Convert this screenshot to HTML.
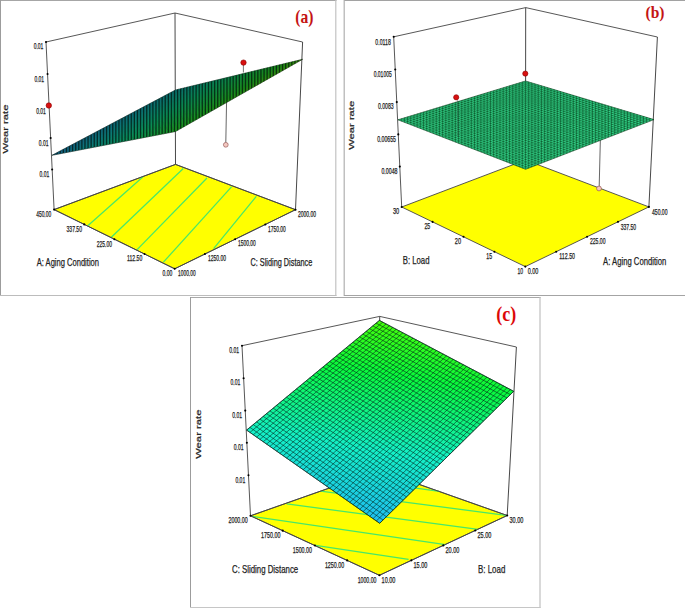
<!DOCTYPE html>
<html><head><meta charset="utf-8"><style>
html,body{margin:0;padding:0;background:#fff;}
svg{display:block;}
</style></head><body>
<svg width="685" height="608" viewBox="0 0 685 608">
<rect width="685" height="608" fill="#fff"/>
<defs></defs>
<line x1="0" y1="0.5" x2="336.5" y2="0.5" stroke="#a6a6a6" stroke-width="1"/>
<line x1="0.5" y1="0" x2="0.5" y2="296" stroke="#9c9c9c" stroke-width="1"/>
<line x1="335.8" y1="0" x2="335.8" y2="296" stroke="#c2c2c2" stroke-width="1.2"/>
<line x1="0" y1="295.5" x2="336.5" y2="295.5" stroke="#bcbcbc" stroke-width="1"/>
<line x1="344" y1="0.5" x2="685" y2="0.5" stroke="#a2a2a2" stroke-width="1"/>
<line x1="344.2" y1="0" x2="344.2" y2="296" stroke="#b0b0b0" stroke-width="1.2"/>
<line x1="344" y1="295.5" x2="685" y2="295.5" stroke="#a4a4a4" stroke-width="1"/>
<line x1="190" y1="297.5" x2="540.6" y2="297.5" stroke="#a8a8a8" stroke-width="1"/>
<line x1="190.5" y1="297" x2="190.5" y2="608" stroke="#9c9c9c" stroke-width="1"/>
<line x1="540" y1="297" x2="540" y2="608" stroke="#c0c0c0" stroke-width="1.2"/>
<line x1="190" y1="607.5" x2="540.6" y2="607.5" stroke="#c6c6c6" stroke-width="1"/>
<line x1="46" y1="42" x2="175" y2="13" stroke="#444" stroke-width="0.9" />
<line x1="175" y1="13" x2="302.6" y2="42" stroke="#444" stroke-width="0.9" />
<line x1="175" y1="13" x2="175.5" y2="164.4" stroke="#333" stroke-width="0.9" />
<line x1="302.6" y1="42" x2="295.5" y2="209.7" stroke="#333" stroke-width="0.9" />
<polygon points="54.1,209.6 175.5,164.4 295.5,209.7 174.7,268.8" fill="#ffff00" stroke="#444" stroke-width="0.9" stroke-linejoin="round"/>
<line x1="87.8" y1="225.8" x2="143" y2="176.8" stroke="#48e868" stroke-width="1.25" />
<line x1="111.3" y1="237.3" x2="183.3" y2="168.5" stroke="#48e868" stroke-width="1.25" />
<line x1="136.9" y1="249.9" x2="207" y2="178" stroke="#48e868" stroke-width="1.25" />
<line x1="163.4" y1="262.2" x2="231.7" y2="186.6" stroke="#48e868" stroke-width="1.25" />
<line x1="213.6" y1="248.7" x2="256.3" y2="196.4" stroke="#48e868" stroke-width="1.25" />
<polygon points="54.1,209.6 175.5,164.4 295.5,209.7 174.7,268.8" fill="none" stroke="#444" stroke-width="0.9" />
<line x1="46" y1="42" x2="54.1" y2="209.6" stroke="#444" stroke-width="0.9" />
<circle cx="46" cy="42" r="1.05" fill="#000"/>
<circle cx="47.55" cy="74" r="1.05" fill="#000"/>
<circle cx="49.12" cy="106.5" r="1.05" fill="#000"/>
<circle cx="50.64" cy="138" r="1.05" fill="#000"/>
<circle cx="52.16" cy="169.5" r="1.05" fill="#000"/>
<text x="43.4" y="49.2" font-family="Liberation Sans" font-size="8.2" font-weight="normal" fill="#222" text-anchor="end" textLength="9.7" lengthAdjust="spacingAndGlyphs" stroke="#222" stroke-width="0.25">0.01</text>
<text x="44.1" y="81.5" font-family="Liberation Sans" font-size="8.2" font-weight="normal" fill="#222" text-anchor="end" textLength="9.7" lengthAdjust="spacingAndGlyphs" stroke="#222" stroke-width="0.25">0.01</text>
<text x="45.9" y="114" font-family="Liberation Sans" font-size="8.2" font-weight="normal" fill="#222" text-anchor="end" textLength="9.7" lengthAdjust="spacingAndGlyphs" stroke="#222" stroke-width="0.25">0.01</text>
<text x="48.5" y="145.8" font-family="Liberation Sans" font-size="8.2" font-weight="normal" fill="#222" text-anchor="end" textLength="9.7" lengthAdjust="spacingAndGlyphs" stroke="#222" stroke-width="0.25">0.01</text>
<text x="49.2" y="177.3" font-family="Liberation Sans" font-size="8.2" font-weight="normal" fill="#222" text-anchor="end" textLength="9.7" lengthAdjust="spacingAndGlyphs" stroke="#222" stroke-width="0.25">0.01</text>
<text x="51.2" y="216.7" font-family="Liberation Sans" font-size="8.2" font-weight="normal" fill="#222" text-anchor="end" textLength="15" lengthAdjust="spacingAndGlyphs" stroke="#222" stroke-width="0.25">450.00</text>
<circle cx="84.25" cy="224.4" r="1.05" fill="#000"/>
<circle cx="114.4" cy="239.2" r="1.05" fill="#000"/>
<circle cx="144.55" cy="254" r="1.05" fill="#000"/>
<circle cx="204.9" cy="254.03" r="1.05" fill="#000"/>
<circle cx="235.1" cy="239.25" r="1.05" fill="#000"/>
<circle cx="265.3" cy="224.47" r="1.05" fill="#000"/>
<circle cx="54.1" cy="209.6" r="1.05" fill="#000"/>
<circle cx="174.7" cy="268.8" r="1.05" fill="#000"/>
<circle cx="295.5" cy="209.7" r="1.05" fill="#000"/>
<text x="82" y="232.3" font-family="Liberation Sans" font-size="8.2" font-weight="normal" fill="#222" text-anchor="end" textLength="15.5" lengthAdjust="spacingAndGlyphs" stroke="#222" stroke-width="0.25">337.50</text>
<text x="112" y="246.6" font-family="Liberation Sans" font-size="8.2" font-weight="normal" fill="#222" text-anchor="end" textLength="15.2" lengthAdjust="spacingAndGlyphs" stroke="#222" stroke-width="0.25">225.00</text>
<text x="142.3" y="261.2" font-family="Liberation Sans" font-size="8.2" font-weight="normal" fill="#222" text-anchor="end" textLength="15.3" lengthAdjust="spacingAndGlyphs" stroke="#222" stroke-width="0.25">112.50</text>
<text x="172.3" y="275.8" font-family="Liberation Sans" font-size="8.2" font-weight="normal" fill="#222" text-anchor="end" textLength="9.8" lengthAdjust="spacingAndGlyphs" stroke="#222" stroke-width="0.25">0.00</text>
<text x="178.1" y="275.8" font-family="Liberation Sans" font-size="8.2" font-weight="normal" fill="#222" text-anchor="start" textLength="17.5" lengthAdjust="spacingAndGlyphs" stroke="#222" stroke-width="0.25">1000.00</text>
<text x="208" y="261" font-family="Liberation Sans" font-size="8.2" font-weight="normal" fill="#222" text-anchor="start" textLength="18" lengthAdjust="spacingAndGlyphs" stroke="#222" stroke-width="0.25">1250.00</text>
<text x="238" y="246.3" font-family="Liberation Sans" font-size="8.2" font-weight="normal" fill="#222" text-anchor="start" textLength="17.8" lengthAdjust="spacingAndGlyphs" stroke="#222" stroke-width="0.25">1500.00</text>
<text x="268" y="232.2" font-family="Liberation Sans" font-size="8.2" font-weight="normal" fill="#222" text-anchor="start" textLength="17.7" lengthAdjust="spacingAndGlyphs" stroke="#222" stroke-width="0.25">1750.00</text>
<text x="298" y="216.7" font-family="Liberation Sans" font-size="8.2" font-weight="normal" fill="#222" text-anchor="start" textLength="18" lengthAdjust="spacingAndGlyphs" stroke="#222" stroke-width="0.25">2000.00</text>
<text x="36.8" y="266.2" font-family="Liberation Sans" font-size="10.5" font-weight="normal" fill="#222" text-anchor="start" textLength="62.2" lengthAdjust="spacingAndGlyphs" stroke="#222" stroke-width="0.25">A: Aging Condition</text>
<text x="250.5" y="266.4" font-family="Liberation Sans" font-size="10.5" font-weight="normal" fill="#222" text-anchor="start" textLength="61.8" lengthAdjust="spacingAndGlyphs" stroke="#222" stroke-width="0.25">C: Sliding Distance</text>
<text x="0" y="0" font-family="Liberation Sans" font-size="11" font-weight="normal" fill="#222" text-anchor="start" textLength="49" lengthAdjust="spacingAndGlyphs" stroke="#222" stroke-width="0.28" transform="translate(7.9 153.6) rotate(-90) scale(1 0.68)">Wear rate</text>
<line x1="226.6" y1="100" x2="225.8" y2="142.5" stroke="#555" stroke-width="0.9" />
<linearGradient id="ga" gradientUnits="userSpaceOnUse" x1="145.28" y1="60.1" x2="195.39" y2="138.88">
<stop offset="0.32" stop-color="#2aa0f0"/>
<stop offset="0.45" stop-color="#18d0d8"/>
<stop offset="0.6" stop-color="#14f0a0"/>
<stop offset="0.82" stop-color="#30f030"/>
<stop offset="0.9" stop-color="#70f818"/>
</linearGradient>
<polygon points="52,155.3 175.5,90 302.6,59.3 175.5,131.5" fill="url(#ga)" stroke="none" stroke-width="0" />
<path d="M52,155.3L175.5,131.5M52,155.3L175.5,90M55.09,153.67L178.68,129.69M55.09,154.71L178.68,89.23M58.17,152.04L181.85,127.89M58.17,154.11L181.85,88.47M61.26,150.4L185.03,126.08M61.26,153.52L185.03,87.7M64.35,148.77L188.21,124.28M64.35,152.92L188.21,86.93M67.44,147.14L191.39,122.47M67.44,152.33L191.39,86.16M70.53,145.5L194.56,120.67M70.53,151.73L194.56,85.39M73.61,143.87L197.74,118.86M73.61,151.14L197.74,84.63M76.7,142.24L200.92,117.06M76.7,150.54L200.92,83.86M79.79,140.61L204.1,115.25M79.79,149.95L204.1,83.09M82.88,138.98L207.28,113.45M82.88,149.35L207.28,82.33M85.96,137.34L210.45,111.64M85.96,148.75L210.45,81.56M89.05,135.71L213.63,109.84M89.05,148.16L213.63,80.79M92.14,134.08L216.81,108.03M92.14,147.56L216.81,80.02M95.22,132.44L219.99,106.23M95.22,146.97L219.99,79.25M98.31,130.81L223.16,104.42M98.31,146.38L223.16,78.49M101.4,129.18L226.34,102.62M101.4,145.78L226.34,77.72M104.49,127.55L229.52,100.81M104.49,145.19L229.52,76.95M107.58,125.92L232.7,99.01M107.58,144.59L232.7,76.19M110.66,124.28L235.87,97.2M110.66,144L235.87,75.42M113.75,122.65L239.05,95.4M113.75,143.4L239.05,74.65M116.84,121.02L242.23,93.59M116.84,142.81L242.23,73.88M119.93,119.39L245.41,91.79M119.93,142.21L245.41,73.11M123.01,117.75L248.58,89.98M123.01,141.62L248.58,72.35M126.1,116.12L251.76,88.18M126.1,141.02L251.76,71.58M129.19,114.49L254.94,86.38M129.19,140.43L254.94,70.81M132.28,112.86L258.12,84.57M132.28,139.83L258.12,70.05M135.36,111.22L261.29,82.76M135.36,139.24L261.29,69.28M138.45,109.59L264.47,80.96M138.45,138.64L264.47,68.51M141.54,107.96L267.65,79.16M141.54,138.05L267.65,67.74M144.62,106.33L270.83,77.35M144.62,137.45L270.83,66.97M147.71,104.69L274,75.54M147.71,136.85L274,66.21M150.8,103.06L277.18,73.74M150.8,136.26L277.18,65.44M153.89,101.43L280.36,71.94M153.89,135.66L280.36,64.67M156.97,99.8L283.54,70.13M156.97,135.07L283.54,63.91M160.06,98.16L286.71,68.32M160.06,134.47L286.71,63.14M163.15,96.53L289.89,66.52M163.15,133.88L289.89,62.37M166.24,94.9L293.07,64.71M166.24,133.28L293.07,61.6M169.32,93.27L296.25,62.91M169.32,132.69L296.25,60.83M172.41,91.63L299.42,61.11M172.41,132.09L299.42,60.07M175.5,90L302.6,59.3M175.5,131.5L302.6,59.3M52,155.3L175.5,90L302.6,59.3L175.5,131.5Z" stroke="#001008" stroke-opacity="0.6" stroke-width="0.5" fill="none"/>
<clipPath id="ca"><polygon points="52,155.3 175.5,90 302.6,59.3 175.5,131.5"/></clipPath>
<path clip-path="url(#ca)" d="M51 59.3V155.3M54.09 59.3V155.3M57.17 59.3V155.3M60.26 59.3V155.3M63.35 59.3V155.3M66.44 59.3V155.3M69.53 59.3V155.3M72.61 59.3V155.3M75.7 59.3V155.3M78.79 59.3V155.3M81.88 59.3V155.3M84.96 59.3V155.3M88.05 59.3V155.3M91.14 59.3V155.3M94.23 59.3V155.3M97.31 59.3V155.3M100.4 59.3V155.3M103.49 59.3V155.3M106.58 59.3V155.3M109.66 59.3V155.3M112.75 59.3V155.3M115.84 59.3V155.3M118.93 59.3V155.3M122.01 59.3V155.3M125.1 59.3V155.3M128.19 59.3V155.3M131.28 59.3V155.3M134.36 59.3V155.3M137.45 59.3V155.3M140.54 59.3V155.3M143.63 59.3V155.3M146.71 59.3V155.3M149.8 59.3V155.3M152.89 59.3V155.3M155.98 59.3V155.3M159.06 59.3V155.3M162.15 59.3V155.3M165.24 59.3V155.3M168.33 59.3V155.3M171.41 59.3V155.3M174.5 59.3V155.3M177.59 59.3V155.3M180.68 59.3V155.3M183.76 59.3V155.3M186.85 59.3V155.3M189.94 59.3V155.3M193.03 59.3V155.3M196.11 59.3V155.3M199.2 59.3V155.3M202.29 59.3V155.3M205.38 59.3V155.3M208.46 59.3V155.3M211.55 59.3V155.3M214.64 59.3V155.3M217.73 59.3V155.3M220.81 59.3V155.3M223.9 59.3V155.3M226.99 59.3V155.3M230.08 59.3V155.3M233.16 59.3V155.3M236.25 59.3V155.3M239.34 59.3V155.3M242.43 59.3V155.3M245.51 59.3V155.3M248.6 59.3V155.3M251.69 59.3V155.3M254.78 59.3V155.3M257.86 59.3V155.3M260.95 59.3V155.3M264.04 59.3V155.3M267.13 59.3V155.3M270.21 59.3V155.3M273.3 59.3V155.3M276.39 59.3V155.3M279.48 59.3V155.3M282.56 59.3V155.3M285.65 59.3V155.3M288.74 59.3V155.3M291.83 59.3V155.3M294.91 59.3V155.3M298 59.3V155.3M301.09 59.3V155.3" stroke="#001008" stroke-opacity="0.7" stroke-width="1.3" fill="none"/>
<line x1="243.4" y1="64" x2="243.4" y2="72.5" stroke="#555" stroke-width="0.8" />
<circle cx="243.5" cy="62.6" r="2.7" fill="#d81010" stroke="#800" stroke-width="0.6"/>
<circle cx="48.8" cy="105.5" r="2.7" fill="#d81010" stroke="#800" stroke-width="0.6"/>
<circle cx="225.8" cy="144.8" r="2.4" fill="#f4c8c0" stroke="#844" stroke-width="0.6"/>
<text x="304.3" y="23.4" font-family="Liberation Serif" font-size="18.3" font-weight="bold" fill="#c41414" text-anchor="middle" textLength="18.2" lengthAdjust="spacingAndGlyphs">(a)</text>
<line x1="393.7" y1="36.8" x2="525.7" y2="7.6" stroke="#444" stroke-width="0.9" />
<line x1="525.7" y1="7.6" x2="657.4" y2="37" stroke="#444" stroke-width="0.9" />
<line x1="525.7" y1="7.6" x2="525.5" y2="160" stroke="#333" stroke-width="0.9" />
<line x1="657.4" y1="37" x2="648.9" y2="206.9" stroke="#333" stroke-width="0.9" />
<polygon points="401.7,207 525.5,160 648.9,206.9 525.3,266.6" fill="#ffff00" stroke="#444" stroke-width="0.9" stroke-linejoin="round"/>
<line x1="393.7" y1="36.8" x2="401.7" y2="207" stroke="#444" stroke-width="0.9" />
<circle cx="393.7" cy="36.8" r="1.05" fill="#000"/>
<circle cx="395.24" cy="69.5" r="1.05" fill="#000"/>
<circle cx="396.77" cy="102.1" r="1.05" fill="#000"/>
<circle cx="398.29" cy="134.4" r="1.05" fill="#000"/>
<circle cx="399.8" cy="166.6" r="1.05" fill="#000"/>
<circle cx="432.6" cy="221.9" r="1.05" fill="#000"/>
<circle cx="556.2" cy="251.68" r="1.05" fill="#000"/>
<circle cx="463.5" cy="236.8" r="1.05" fill="#000"/>
<circle cx="587.1" cy="236.75" r="1.05" fill="#000"/>
<circle cx="494.4" cy="251.7" r="1.05" fill="#000"/>
<circle cx="618" cy="221.83" r="1.05" fill="#000"/>
<circle cx="401.7" cy="207" r="1.05" fill="#000"/>
<circle cx="525.3" cy="266.6" r="1.05" fill="#000"/>
<circle cx="648.9" cy="206.9" r="1.05" fill="#000"/>
<text x="390.8" y="44.5" font-family="Liberation Sans" font-size="8.2" font-weight="normal" fill="#222" text-anchor="end" textLength="15.5" lengthAdjust="spacingAndGlyphs" stroke="#222" stroke-width="0.25">0.0118</text>
<text x="391.7" y="77" font-family="Liberation Sans" font-size="8.2" font-weight="normal" fill="#222" text-anchor="end" textLength="18" lengthAdjust="spacingAndGlyphs" stroke="#222" stroke-width="0.25">0.01005</text>
<text x="393.7" y="109" font-family="Liberation Sans" font-size="8.2" font-weight="normal" fill="#222" text-anchor="end" textLength="15.8" lengthAdjust="spacingAndGlyphs" stroke="#222" stroke-width="0.25">0.0083</text>
<text x="396" y="141.9" font-family="Liberation Sans" font-size="8.2" font-weight="normal" fill="#222" text-anchor="end" textLength="18.8" lengthAdjust="spacingAndGlyphs" stroke="#222" stroke-width="0.25">0.00655</text>
<text x="397.5" y="173.9" font-family="Liberation Sans" font-size="8.2" font-weight="normal" fill="#222" text-anchor="end" textLength="16.1" lengthAdjust="spacingAndGlyphs" stroke="#222" stroke-width="0.25">0.0048</text>
<text x="399.2" y="214" font-family="Liberation Sans" font-size="8.2" font-weight="normal" fill="#222" text-anchor="end" textLength="6.3" lengthAdjust="spacingAndGlyphs" stroke="#222" stroke-width="0.25">30</text>
<text x="430.2" y="229.2" font-family="Liberation Sans" font-size="8.2" font-weight="normal" fill="#222" text-anchor="end" textLength="5.8" lengthAdjust="spacingAndGlyphs" stroke="#222" stroke-width="0.25">25</text>
<text x="461" y="244" font-family="Liberation Sans" font-size="8.2" font-weight="normal" fill="#222" text-anchor="end" textLength="6.2" lengthAdjust="spacingAndGlyphs" stroke="#222" stroke-width="0.25">20</text>
<text x="492.1" y="258.9" font-family="Liberation Sans" font-size="8.2" font-weight="normal" fill="#222" text-anchor="end" textLength="5.8" lengthAdjust="spacingAndGlyphs" stroke="#222" stroke-width="0.25">15</text>
<text x="523" y="273.6" font-family="Liberation Sans" font-size="8.2" font-weight="normal" fill="#222" text-anchor="end" textLength="5.6" lengthAdjust="spacingAndGlyphs" stroke="#222" stroke-width="0.25">10</text>
<text x="527.7" y="273.6" font-family="Liberation Sans" font-size="8.2" font-weight="normal" fill="#222" text-anchor="start" textLength="10.7" lengthAdjust="spacingAndGlyphs" stroke="#222" stroke-width="0.25">0.00</text>
<text x="559.3" y="259.2" font-family="Liberation Sans" font-size="8.2" font-weight="normal" fill="#222" text-anchor="start" textLength="15.7" lengthAdjust="spacingAndGlyphs" stroke="#222" stroke-width="0.25">112.50</text>
<text x="589.9" y="244.2" font-family="Liberation Sans" font-size="8.2" font-weight="normal" fill="#222" text-anchor="start" textLength="15.6" lengthAdjust="spacingAndGlyphs" stroke="#222" stroke-width="0.25">225.00</text>
<text x="620.7" y="229.8" font-family="Liberation Sans" font-size="8.2" font-weight="normal" fill="#222" text-anchor="start" textLength="15.4" lengthAdjust="spacingAndGlyphs" stroke="#222" stroke-width="0.25">337.50</text>
<text x="652" y="214.8" font-family="Liberation Sans" font-size="8.2" font-weight="normal" fill="#222" text-anchor="start" textLength="15.5" lengthAdjust="spacingAndGlyphs" stroke="#222" stroke-width="0.25">450.00</text>
<text x="402.7" y="264" font-family="Liberation Sans" font-size="10.5" font-weight="normal" fill="#222" text-anchor="start" textLength="26.8" lengthAdjust="spacingAndGlyphs" stroke="#222" stroke-width="0.25">B: Load</text>
<text x="603.1" y="264.5" font-family="Liberation Sans" font-size="10.5" font-weight="normal" fill="#222" text-anchor="start" textLength="63.2" lengthAdjust="spacingAndGlyphs" stroke="#222" stroke-width="0.25">A: Aging Condition</text>
<text x="0" y="0" font-family="Liberation Sans" font-size="11" font-weight="normal" fill="#222" text-anchor="start" textLength="49" lengthAdjust="spacingAndGlyphs" stroke="#222" stroke-width="0.28" transform="translate(354.2 149.8) rotate(-90) scale(1 0.68)">Wear rate</text>
<line x1="600.4" y1="138" x2="599.2" y2="186.5" stroke="#555" stroke-width="0.9" />
<linearGradient id="gb" gradientUnits="userSpaceOnUse" x1="400" y1="80" x2="650" y2="160">
<stop offset="0" stop-color="#34d88c"/>
<stop offset="1" stop-color="#34d88c"/>
</linearGradient>
<polygon points="398,119.8 525.5,81 654,119.6 525.6,169.3" fill="url(#gb)" stroke="none" stroke-width="0" />
<path d="M398,119.8L525.6,169.3M398,119.8L525.5,81M401.19,118.83L528.81,168.06M401.19,121.04L528.71,81.97M404.38,117.86L532.02,166.81M404.38,122.27L531.92,82.93M407.56,116.89L535.23,165.57M407.57,123.51L535.14,83.89M410.75,115.92L538.44,164.33M410.76,124.75L538.35,84.86M413.94,114.95L541.65,163.09M413.95,125.99L541.56,85.83M417.12,113.98L544.86,161.84M417.14,127.22L544.77,86.79M420.31,113.01L548.07,160.6M420.33,128.46L547.99,87.75M423.5,112.04L551.28,159.36M423.52,129.7L551.2,88.72M426.69,111.07L554.49,158.12M426.71,130.94L554.41,89.69M429.88,110.1L557.7,156.88M429.9,132.18L557.62,90.65M433.06,109.13L560.91,155.63M433.09,133.41L560.84,91.61M436.25,108.16L564.12,154.39M436.28,134.65L564.05,92.58M439.44,107.19L567.33,153.15M439.47,135.89L567.26,93.55M442.62,106.22L570.54,151.91M442.66,137.12L570.48,94.51M445.81,105.25L573.75,150.66M445.85,138.36L573.69,95.47M449,104.28L576.96,149.42M449.04,139.6L576.9,96.44M452.19,103.31L580.17,148.18M452.23,140.84L580.11,97.41M455.38,102.34L583.38,146.94M455.42,142.07L583.33,98.37M458.56,101.37L586.59,145.69M458.61,143.31L586.54,99.33M461.75,100.4L589.8,144.45M461.8,144.55L589.75,100.3M464.94,99.43L593.01,143.21M464.99,145.79L592.96,101.27M468.12,98.46L596.22,141.97M468.18,147.03L596.17,102.23M471.31,97.49L599.43,140.72M471.37,148.26L599.39,103.19M474.5,96.52L602.64,139.48M474.56,149.5L602.6,104.16M477.69,95.55L605.85,138.24M477.75,150.74L605.81,105.12M480.88,94.58L609.06,137M480.94,151.98L609.02,106.09M484.06,93.61L612.27,135.75M484.13,153.21L612.24,107.05M487.25,92.64L615.48,134.51M487.32,154.45L615.45,108.02M490.44,91.67L618.69,133.27M490.51,155.69L618.66,108.98M493.62,90.7L621.9,132.03M493.7,156.93L621.88,109.95M496.81,89.73L625.11,130.78M496.89,158.16L625.09,110.91M500,88.76L628.32,129.54M500.08,159.4L628.3,111.88M503.19,87.79L631.53,128.3M503.27,160.64L631.51,112.84M506.38,86.82L634.74,127.06M506.46,161.88L634.73,113.81M509.56,85.85L637.95,125.81M509.65,163.11L637.94,114.77M512.75,84.88L641.16,124.57M512.84,164.35L641.15,115.74M515.94,83.91L644.37,123.33M516.03,165.59L644.36,116.7M519.12,82.94L647.58,122.09M519.22,166.83L647.58,117.67M522.31,81.97L650.79,120.84M522.41,168.06L650.79,118.63M525.5,81L654,119.6M525.6,169.3L654,119.6M398,119.8L525.5,81L654,119.6L525.6,169.3Z" stroke="#003010" stroke-opacity="0.6" stroke-width="0.55" fill="none"/>
<clipPath id="cb"><polygon points="398,119.8 525.5,81 654,119.6 525.6,169.3"/></clipPath>
<path clip-path="url(#cb)" d="M398 81V169.3M401.19 81V169.3M404.38 81V169.3M407.56 81V169.3M410.75 81V169.3M413.94 81V169.3M417.12 81V169.3M420.31 81V169.3M423.5 81V169.3M426.69 81V169.3M429.88 81V169.3M433.06 81V169.3M436.25 81V169.3M439.44 81V169.3M442.62 81V169.3M445.81 81V169.3M449 81V169.3M452.19 81V169.3M455.38 81V169.3M458.56 81V169.3M461.75 81V169.3M464.94 81V169.3M468.12 81V169.3M471.31 81V169.3M474.5 81V169.3M477.69 81V169.3M480.88 81V169.3M484.06 81V169.3M487.25 81V169.3M490.44 81V169.3M493.62 81V169.3M496.81 81V169.3M500 81V169.3M503.19 81V169.3M506.38 81V169.3M509.56 81V169.3M512.75 81V169.3M515.94 81V169.3M519.12 81V169.3M522.31 81V169.3M525.5 81V169.3M528.69 81V169.3M531.88 81V169.3M535.06 81V169.3M538.25 81V169.3M541.44 81V169.3M544.62 81V169.3M547.81 81V169.3M551 81V169.3M554.19 81V169.3M557.38 81V169.3M560.56 81V169.3M563.75 81V169.3M566.94 81V169.3M570.12 81V169.3M573.31 81V169.3M576.5 81V169.3M579.69 81V169.3M582.88 81V169.3M586.06 81V169.3M589.25 81V169.3M592.44 81V169.3M595.62 81V169.3M598.81 81V169.3M602 81V169.3M605.19 81V169.3M608.38 81V169.3M611.56 81V169.3M614.75 81V169.3M617.94 81V169.3M621.12 81V169.3M624.31 81V169.3M627.5 81V169.3M630.69 81V169.3M633.88 81V169.3M637.06 81V169.3M640.25 81V169.3M643.44 81V169.3M646.62 81V169.3M649.81 81V169.3M653 81V169.3" stroke="#003010" stroke-opacity="0.45" stroke-width="1.1" fill="none"/>
<line x1="457.5" y1="100" x2="458" y2="137" stroke="#333" stroke-width="0.6" stroke-opacity="0.6"/>
<circle cx="456.2" cy="97.3" r="2.6" fill="#d81010" stroke="#800" stroke-width="0.6"/>
<circle cx="525.3" cy="73.6" r="2.6" fill="#d81010" stroke="#800" stroke-width="0.6"/>
<circle cx="599" cy="188.5" r="2.4" fill="#f4c8c0" stroke="#844" stroke-width="0.6"/>
<text x="655" y="18.3" font-family="Liberation Serif" font-size="17.2" font-weight="bold" fill="#c41414" text-anchor="middle" textLength="19" lengthAdjust="spacingAndGlyphs">(b)</text>
<line x1="242" y1="345.7" x2="379.7" y2="316.4" stroke="#444" stroke-width="0.9" />
<line x1="379.7" y1="316.4" x2="516.4" y2="347" stroke="#444" stroke-width="0.9" />
<line x1="379.7" y1="316.4" x2="379.5" y2="470.4" stroke="#333" stroke-width="0.9" />
<line x1="516.4" y1="347" x2="507.2" y2="515.5" stroke="#333" stroke-width="0.9" />
<polygon points="250.5,515.8 379.5,470.4 507.2,515.5 379.4,575.3" fill="#ffff00" stroke="#444" stroke-width="0.9" stroke-linejoin="round"/>
<line x1="353.5" y1="479.3" x2="439.3" y2="491.3" stroke="#48e868" stroke-width="1.25" />
<line x1="320.6" y1="491.2" x2="506" y2="515.3" stroke="#48e868" stroke-width="1.25" />
<line x1="286.8" y1="503.9" x2="478.1" y2="529.3" stroke="#48e868" stroke-width="1.25" />
<line x1="252.5" y1="516.3" x2="445.4" y2="544.6" stroke="#48e868" stroke-width="1.25" />
<line x1="315.4" y1="545.4" x2="408.6" y2="559.3" stroke="#48e868" stroke-width="1.25" />
<polygon points="250.5,515.8 379.5,470.4 507.2,515.5 379.4,575.3" fill="none" stroke="#444" stroke-width="0.9" />
<line x1="242" y1="345.7" x2="250.5" y2="515.8" stroke="#444" stroke-width="0.9" />
<circle cx="242" cy="345.7" r="1.05" fill="#000"/>
<circle cx="243.62" cy="378.2" r="1.05" fill="#000"/>
<circle cx="245.24" cy="410.6" r="1.05" fill="#000"/>
<circle cx="246.85" cy="442.8" r="1.05" fill="#000"/>
<circle cx="248.48" cy="475.3" r="1.05" fill="#000"/>
<circle cx="282.73" cy="530.67" r="1.05" fill="#000"/>
<circle cx="411.35" cy="560.35" r="1.05" fill="#000"/>
<circle cx="314.95" cy="545.55" r="1.05" fill="#000"/>
<circle cx="443.3" cy="545.4" r="1.05" fill="#000"/>
<circle cx="347.17" cy="560.42" r="1.05" fill="#000"/>
<circle cx="475.25" cy="530.45" r="1.05" fill="#000"/>
<circle cx="250.5" cy="515.8" r="1.05" fill="#000"/>
<circle cx="379.4" cy="575.3" r="1.05" fill="#000"/>
<circle cx="507.2" cy="515.5" r="1.05" fill="#000"/>
<text x="239" y="353.1" font-family="Liberation Sans" font-size="8.2" font-weight="normal" fill="#222" text-anchor="end" textLength="9.8" lengthAdjust="spacingAndGlyphs" stroke="#222" stroke-width="0.25">0.01</text>
<text x="240.3" y="385.4" font-family="Liberation Sans" font-size="8.2" font-weight="normal" fill="#222" text-anchor="end" textLength="9.8" lengthAdjust="spacingAndGlyphs" stroke="#222" stroke-width="0.25">0.01</text>
<text x="242" y="418.2" font-family="Liberation Sans" font-size="8.2" font-weight="normal" fill="#222" text-anchor="end" textLength="9.8" lengthAdjust="spacingAndGlyphs" stroke="#222" stroke-width="0.25">0.01</text>
<text x="243.5" y="450.2" font-family="Liberation Sans" font-size="8.2" font-weight="normal" fill="#222" text-anchor="end" textLength="9.8" lengthAdjust="spacingAndGlyphs" stroke="#222" stroke-width="0.25">0.01</text>
<text x="245.2" y="483" font-family="Liberation Sans" font-size="8.2" font-weight="normal" fill="#222" text-anchor="end" textLength="9.8" lengthAdjust="spacingAndGlyphs" stroke="#222" stroke-width="0.25">0.01</text>
<text x="247.7" y="523.4" font-family="Liberation Sans" font-size="8.2" font-weight="normal" fill="#222" text-anchor="end" textLength="19.2" lengthAdjust="spacingAndGlyphs" stroke="#222" stroke-width="0.25">2000.00</text>
<text x="280.4" y="538.2" font-family="Liberation Sans" font-size="8.2" font-weight="normal" fill="#222" text-anchor="end" textLength="19.3" lengthAdjust="spacingAndGlyphs" stroke="#222" stroke-width="0.25">1750.00</text>
<text x="312" y="553" font-family="Liberation Sans" font-size="8.2" font-weight="normal" fill="#222" text-anchor="end" textLength="19.3" lengthAdjust="spacingAndGlyphs" stroke="#222" stroke-width="0.25">1500.00</text>
<text x="344.2" y="567.6" font-family="Liberation Sans" font-size="8.2" font-weight="normal" fill="#222" text-anchor="end" textLength="19.3" lengthAdjust="spacingAndGlyphs" stroke="#222" stroke-width="0.25">1250.00</text>
<text x="376.4" y="582.7" font-family="Liberation Sans" font-size="8.2" font-weight="normal" fill="#222" text-anchor="end" textLength="18.7" lengthAdjust="spacingAndGlyphs" stroke="#222" stroke-width="0.25">1000.00</text>
<text x="381.6" y="582.7" font-family="Liberation Sans" font-size="8.2" font-weight="normal" fill="#222" text-anchor="start" textLength="13.8" lengthAdjust="spacingAndGlyphs" stroke="#222" stroke-width="0.25">10.00</text>
<text x="413.5" y="567.5" font-family="Liberation Sans" font-size="8.2" font-weight="normal" fill="#222" text-anchor="start" textLength="13.8" lengthAdjust="spacingAndGlyphs" stroke="#222" stroke-width="0.25">15.00</text>
<text x="445.5" y="553" font-family="Liberation Sans" font-size="8.2" font-weight="normal" fill="#222" text-anchor="start" textLength="13.8" lengthAdjust="spacingAndGlyphs" stroke="#222" stroke-width="0.25">20.00</text>
<text x="477.5" y="538" font-family="Liberation Sans" font-size="8.2" font-weight="normal" fill="#222" text-anchor="start" textLength="13.8" lengthAdjust="spacingAndGlyphs" stroke="#222" stroke-width="0.25">25.00</text>
<text x="509.5" y="523" font-family="Liberation Sans" font-size="8.2" font-weight="normal" fill="#222" text-anchor="start" textLength="13.8" lengthAdjust="spacingAndGlyphs" stroke="#222" stroke-width="0.25">30.00</text>
<text x="232" y="572.5" font-family="Liberation Sans" font-size="10.5" font-weight="normal" fill="#222" text-anchor="start" textLength="66.2" lengthAdjust="spacingAndGlyphs" stroke="#222" stroke-width="0.25">C: Sliding Distance</text>
<text x="478" y="572.6" font-family="Liberation Sans" font-size="11" font-weight="normal" fill="#222" text-anchor="start" textLength="27.3" lengthAdjust="spacingAndGlyphs" stroke="#222" stroke-width="0.25">B: Load</text>
<text x="0" y="0" font-family="Liberation Sans" font-size="11" font-weight="normal" fill="#222" text-anchor="start" textLength="49.2" lengthAdjust="spacingAndGlyphs" stroke="#222" stroke-width="0.28" transform="translate(200.6 458.8) rotate(-90) scale(1 0.68)">Wear rate</text>
<linearGradient id="gc" gradientUnits="userSpaceOnUse" x1="348.46" y1="628.1" x2="400.13" y2="279.42">
<stop offset="0.31" stop-color="#1ebef0"/>
<stop offset="0.51" stop-color="#14f0c8"/>
<stop offset="0.73" stop-color="#0afa3c"/>
<stop offset="0.88" stop-color="#46ff0a"/>
</linearGradient>
<polygon points="246.6,430.1 379.4,320.4 513.7,391.3 379.7,523.3" fill="url(#gc)" stroke="none" stroke-width="0" />
<path d="M246.6,430.1L379.7,523.3M246.6,430.1L379.4,320.4M249.92,427.36L383.05,520M249.93,432.43L382.76,322.17M253.24,424.62L386.4,516.7M253.25,434.76L386.12,323.94M256.56,421.87L389.75,513.4M256.58,437.09L389.47,325.72M259.88,419.13L393.1,510.1M259.91,439.42L392.83,327.49M263.2,416.39L396.45,506.8M263.24,441.75L396.19,329.26M266.52,413.65L399.8,503.5M266.56,444.08L399.54,331.03M269.84,410.9L403.15,500.2M269.89,446.41L402.9,332.81M273.16,408.16L406.5,496.9M273.22,448.74L406.26,334.58M276.48,405.42L409.85,493.6M276.55,451.07L409.62,336.35M279.8,402.68L413.2,490.3M279.88,453.4L412.98,338.12M283.12,399.93L416.55,487M283.2,455.73L416.33,339.9M286.44,397.19L419.9,483.7M286.53,458.06L419.69,341.67M289.76,394.45L423.25,480.4M289.86,460.39L423.05,343.44M293.08,391.71L426.6,477.1M293.19,462.72L426.4,345.21M296.4,388.96L429.95,473.8M296.51,465.05L429.76,346.99M299.72,386.22L433.3,470.5M299.84,467.38L433.12,348.76M303.04,383.48L436.65,467.2M303.17,469.71L436.48,350.53M306.36,380.74L440,463.9M306.5,472.04L439.84,352.31M309.68,377.99L443.35,460.6M309.82,474.37L443.19,354.08M313,375.25L446.7,457.3M313.15,476.7L446.55,355.85M316.32,372.51L450.05,454M316.48,479.03L449.91,357.62M319.64,369.76L453.4,450.7M319.81,481.36L453.26,359.39M322.96,367.02L456.75,447.4M323.13,483.69L456.62,361.17M326.28,364.28L460.1,444.1M326.46,486.02L459.98,362.94M329.6,361.54L463.45,440.8M329.79,488.35L463.34,364.71M332.92,358.79L466.8,437.5M333.12,490.68L466.7,366.49M336.24,356.05L470.15,434.2M336.44,493.01L470.05,368.26M339.56,353.31L473.5,430.9M339.77,495.34L473.41,370.03M342.88,350.57L476.85,427.6M343.1,497.67L476.77,371.8M346.2,347.82L480.2,424.3M346.42,500L480.12,373.57M349.52,345.08L483.55,421M349.75,502.33L483.48,375.35M352.84,342.34L486.9,417.7M353.08,504.66L486.84,377.12M356.16,339.6L490.25,414.4M356.41,506.99L490.2,378.89M359.48,336.86L493.6,411.1M359.74,509.32L493.56,380.67M362.8,334.11L496.95,407.8M363.06,511.65L496.91,382.44M366.12,331.37L500.3,404.5M366.39,513.98L500.27,384.21M369.44,328.63L503.65,401.2M369.72,516.31L503.63,385.98M372.76,325.88L507,397.9M373.04,518.64L506.99,387.75M376.08,323.14L510.35,394.6M376.37,520.97L510.34,389.53M379.4,320.4L513.7,391.3M379.7,523.3L513.7,391.3M246.6,430.1L379.4,320.4L513.7,391.3L379.7,523.3Z" stroke="#002018" stroke-opacity="0.75" stroke-width="0.75" fill="none"/>
<text x="506.3" y="321" font-family="Liberation Serif" font-size="20" font-weight="bold" fill="#dc0808" text-anchor="middle" textLength="20" lengthAdjust="spacingAndGlyphs">(c)</text>
</svg></body></html>
